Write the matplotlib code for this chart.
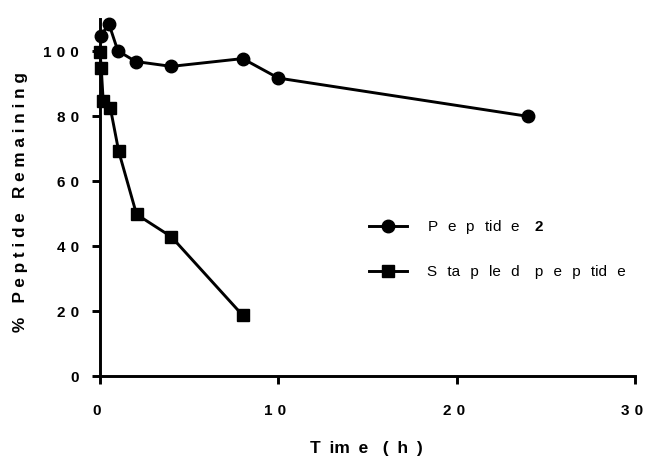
import matplotlib
matplotlib.use("Agg")
import matplotlib.pyplot as plt
import matplotlib.transforms as mtransforms

plt.rcParams['font.family'] = ['Liberation Sans', 'DejaVu Sans']
plt.rcParams['mathtext.fontset'] = 'custom'
plt.rcParams['mathtext.bf'] = 'Liberation Sans:bold'
plt.rcParams['mathtext.rm'] = 'Liberation Sans'

# ---- data ----
time_p2 = [0.05, 0.5, 1, 2, 4, 8, 10, 24]
pct_p2 = [104.9, 108.5, 100.2, 96.9, 95.4, 97.8, 91.8, 80.0]
time_st = [0, 0.07, 0.18, 0.58, 1.05, 2.05, 4.0, 8.0]
pct_st = [99.7, 94.9, 84.6, 82.6, 69.2, 49.8, 42.9, 18.7]

xticks = [0, 10, 20, 30]
xtick_labels = ['0', '10', '20', '30']
yticks = [0, 20, 40, 60, 80, 100]
ytick_labels = ['0', '20', '40', '60', '80', '100']

label_p2_num = '2'

EN = '\u2002'
THREE = '\u2004'
EM = '\u2003'
SP = ' '


def spaced_chars(s, gap):
    return gap.join(s)


fig = plt.figure(figsize=(6.46, 4.57), dpi=100)
ax = fig.add_axes([100 / 646, 81 / 457, 535 / 646, 357 / 457])

lw = 2.1
l1, = ax.plot(time_p2, pct_p2, marker='o', color='black', lw=lw, ms=9,
              clip_on=False, zorder=3)
l2, = ax.plot(time_st, pct_st, marker='s', color='black', lw=lw, ms=9,
              clip_on=False, zorder=3)

ax.set_xlim(0, 30)
ax.set_ylim(0, 110)
for s in ['top', 'right']:
    ax.spines[s].set_visible(False)
for s in ['left', 'bottom']:
    ax.spines[s].set_linewidth(2.1)

ax.set_xticks(xticks)
ax.set_xticklabels([spaced_chars(t, THREE) for t in xtick_labels],
                   fontsize=11, fontweight='bold')
ax.set_yticks(yticks)
ax.set_yticklabels([spaced_chars(t, THREE) for t in ytick_labels],
                   fontsize=11, fontweight='bold')
ax.tick_params(axis='both', direction='out', length=6, width=2.1)
ax.tick_params(axis='x', pad=14)
ax.tick_params(axis='y', pad=9)
shift = mtransforms.ScaledTranslation(-3 / 100, 0, fig.dpi_scale_trans)
for lab in ax.get_xticklabels():
    lab.set_transform(lab.get_transform() + shift)

# axis labels
xl = EN.join(['T', 'im', 'e']) + EN + THREE + EN.join(['(', 'h', ')'])
fig.text(366 / 646, 1 - 448 / 457, xl, ha='center', va='center',
         fontsize=12.5, fontweight='bold')
yl = '%' + SP * 3 + SP.join('Peptide') + SP * 3 + SP.join('Remaining')
fig.text(21 / 646, 1 - 202 / 457, yl, ha='center', va='center',
         rotation=90, fontsize=12.3, fontweight='bold')

# legend
G = THREE * 2
lab1 = G.join(['P', 'e', 'p', 'tid', 'e']) + EM + r'$\mathbf{' + label_p2_num + '}$'
lab2 = G.join(['S', 'ta', 'p', 'le', 'd']) + EM + G.join(['p', 'e', 'p', 'tid', 'e'])
leg = ax.legend([l1, l2], [lab1, lab2], loc='center left',
                bbox_to_anchor=(369 / 646, 1 - 248.4 / 457),
                bbox_transform=fig.transFigure, frameon=False,
                fontsize=11, handlelength=2.5, handletextpad=1.3,
                labelspacing=1.9, borderpad=0, borderaxespad=0, numpoints=1)

fig.savefig('out.png', dpi=100)
